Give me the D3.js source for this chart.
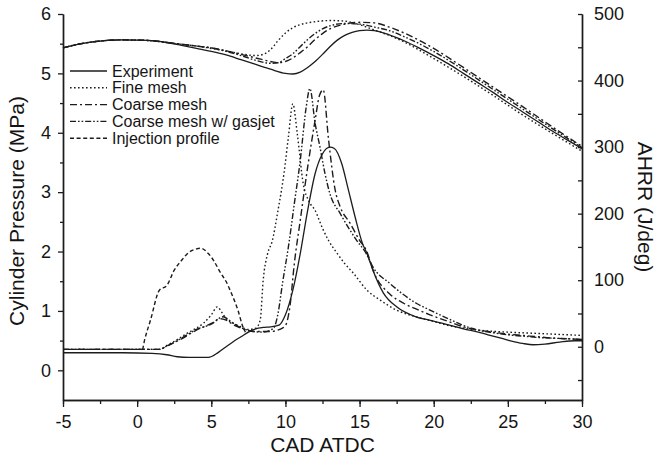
<!DOCTYPE html>
<html>
<head>
<meta charset="utf-8">
<script src="https://cdn.jsdelivr.net/npm/d3@7"></script>
<style>
  body { margin: 0; background: #fff; }
  svg text { font-family: "Liberation Sans", Arial, sans-serif; fill: #151515; }
</style>
</head>
<body>
<svg id="chart"></svg>
<script>
// CAD ATDC vs value
expPressure = [[-5,5.43],[-4,5.49],[-3,5.53],[-2,5.555],[-1,5.565],[0,5.56],[1,5.55],[2,5.52],[3,5.47],[4,5.42],[5,5.37],[6,5.31],[7,5.23],[8,5.15],[9,5.07],[10,5.0],[10.5,4.99],[11,5.02],[11.5,5.1],[12,5.2],[12.5,5.32],[13,5.45],[13.5,5.56],[14,5.64],[14.5,5.69],[15,5.72],[15.5,5.73],[16,5.72],[17,5.65],[18,5.55],[19,5.43],[20,5.3],[21,5.16],[22,5.0],[23,4.84],[24,4.68],[25,4.51],[26,4.35],[27,4.19],[28,4.03],[29,3.88],[30,3.73]]
fineP = [[-5,5.43],[-4,5.49],[-3,5.53],[-2,5.555],[-1,5.565],[0,5.56],[1,5.55],[2,5.52],[3,5.49],[4,5.46],[5,5.42],[6,5.38],[7,5.33],[8,5.3],[8.5,5.32],[9,5.4],[9.5,5.55],[10,5.68],[10.5,5.77],[11,5.82],[12,5.87],[13,5.89],[14,5.88],[15,5.82],[16,5.73],[17,5.64],[18,5.53],[20,5.25],[22,4.95],[24,4.63],[26,4.3],[28,3.99],[30,3.69]]
coarseP = [[-5,5.43],[-4,5.49],[-3,5.53],[-2,5.555],[-1,5.565],[0,5.56],[1,5.55],[2,5.52],[3,5.49],[4,5.46],[5,5.43],[6,5.38],[7,5.32],[8,5.26],[9,5.2],[9.5,5.18],[10,5.2],[10.5,5.26],[11,5.35],[11.5,5.45],[12,5.57],[12.5,5.67],[13,5.75],[14,5.83],[15,5.86],[16,5.85],[17,5.78],[18,5.68],[20,5.42],[22,5.1],[24,4.77],[26,4.44],[28,4.1],[30,3.77]]
gasjetP = [[-5,5.43],[-4,5.49],[-3,5.53],[-2,5.555],[-1,5.565],[0,5.56],[1,5.55],[2,5.52],[3,5.49],[4,5.46],[5,5.43],[6,5.37],[7,5.3],[8,5.22],[9,5.17],[9.5,5.18],[10,5.25],[10.5,5.33],[11,5.45],[11.5,5.57],[12,5.67],[12.5,5.75],[13,5.8],[14,5.84],[15,5.83],[16,5.78],[17,5.72],[18,5.62],[20,5.37],[22,5.06],[24,4.73],[26,4.4],[28,4.07],[30,3.75]]

expAHRR = [[-5,-9],[-1,-9],[1,-10],[2,-12],[2.7,-15],[3.5,-16],[4.8,-16],[5.5,-8],[6,0],[6.5,8],[7,15],[7.5,22],[8,27],[8.5,29],[9,30],[9.6,33],[10,48],[10.5,85],[11,140],[11.5,205],[12,260],[12.5,290],[13,300],[13.3,298],[13.8,275],[14.2,240],[14.7,195],[15.2,155],[15.5,140],[15.9,115],[16.6,81],[17.5,60],[18.8,45],[19.7,40],[21,33],[22,27],[23,22],[24,16],[25,10],[26,5],[26.7,3],[27.5,4],[28.5,7],[29.5,9],[30,9]]
fineAHRR = [[-5,-4],[1.5,-4],[2,2],[2.5,8],[3,15],[3.5,22],[4,28],[4.5,36],[5,48],[5.4,60],[5.7,52],[6,42],[6.5,35],[7,30],[7.5,26],[8,28],[8.3,40],[8.5,100],[8.8,140],[9.1,158],[9.5,205],[9.9,260],[10.2,315],[10.5,365],[10.8,320],[11.2,245],[11.6,218],[12,205],[12.5,178],[12.9,160],[13.5,140],[14,125],[14.6,110],[15.5,85],[16.4,70],[17.5,55],[18.8,45],[20,38],[21,32],[22,28],[23,25],[25,22],[27,20],[29,18],[30,17]]
coarseAHRR = [[-5,-4],[1.5,-4],[2,1],[3,12],[4,25],[5,35],[5.6,42],[6,40],[6.5,33],[7,28],[7.5,24],[8,23],[9,23],[9.6,26],[10,32],[10.3,60],[10.6,125],[11,190],[11.5,270],[12,340],[12.3,378],[12.55,386],[12.9,313],[13.35,236],[13.7,210],[14.35,186],[15,160],[15.45,145],[16,110],[17,80],[18,65],[19,55],[19.75,48],[21,38],[22,30],[23,25],[24,22],[25,19],[26,17],[27,15],[28,13],[29,12],[30,11]]
gasjetAHRR = [[-5,-4],[1.5,-4],[2,1],[3,13],[4,26],[5,34],[5.8,45],[6.2,40],[6.7,32],[7.2,27],[7.8,23],[8.5,22],[9.2,28],[9.5,50],[9.8,95],[10.2,150],[10.6,215],[11,280],[11.4,360],[11.65,388],[12,336],[12.33,300],[12.67,260],[13,230],[13.7,200],[14.8,160],[15.45,140],[15.9,120],[17.05,95],[18.85,65],[19.75,55],[21,42],[22,32],[23,25],[24,21],[25,18],[26,16],[27,14],[28,13],[29,12],[30,11]]
injection = [[-5,-4],[0.35,-4],[0.5,10],[0.9,40],[1.5,85],[2,92],[2.5,115],[3,130],[3.5,142],[4,147],[4.3,148],[4.8,140],[5.2,128],[5.6,112],[6,98],[6.4,78],[6.8,55],[7.1,32],[7.3,22]]

legendNames = ['Experiment', 'Fine mesh', 'Coarse mesh', 'Coarse mesh w/ gasjet', 'Injection profile']
xTicks = [-5, 0, 5, 10, 15, 20, 25, 30]
leftTicks = [0, 1, 2, 3, 4, 5, 6]
rightTicks = [0, 100, 200, 300, 400, 500]

let width = 661
let height = 464
let margin = {top: 14, right: 79, bottom: 64, left: 63}
let chartWidth = width - margin.left - margin.right
let chartHeight = height - margin.top - margin.bottom

const svg = d3.select('#chart').attr('width', width).attr('height', height)
const g = svg.append('g').attr('transform', `translate(${margin.left},${margin.top})`)

xScale = d3.scaleLinear().domain([-5, 30]).range([0, chartWidth])
yLeft = d3.scaleLinear().domain([-0.5, 6]).range([chartHeight, 0])
yRight = d3.scaleLinear().domain([-80, 500]).range([chartHeight, 0])

dashes = ['none', '1.6,2.4', '7,3,2,3', '6,2,1.6,2,1.6,2', '4,2.6']
ink = '#1c1c1c'

series = [
    {data: expPressure, y: yLeft, style: 0},
    {data: fineP, y: yLeft, style: 1},
    {data: coarseP, y: yLeft, style: 2},
    {data: gasjetP, y: yLeft, style: 3},
    {data: expAHRR, y: yRight, style: 0},
    {data: fineAHRR, y: yRight, style: 1},
    {data: coarseAHRR, y: yRight, style: 2},
    {data: gasjetAHRR, y: yRight, style: 3},
    {data: injection, y: yRight, style: 4}
]

series.forEach(s => {
    let line = d3.line()
        .x(d => xScale(d[0]))
        .y(d => s.y(d[1]))
        .curve(d3.curveMonotoneX)
    g.append('path')
        .datum(s.data)
        .attr('d', line)
        .attr('fill', 'none')
        .attr('stroke', ink)
        .attr('stroke-width', s.style == 0 ? 1.3 : 1.4)
        .attr('stroke-dasharray', dashes[s.style])
})

// axes
function styleAxis(sel, fontSize) {
    sel.selectAll('path.domain').attr('stroke', ink).attr('stroke-width', 1.4)
    sel.selectAll('.tick line').attr('stroke', ink).attr('stroke-width', 1.3)
    sel.selectAll('.tick text').attr('font-size', fontSize).attr('fill', '#151515')
        .style('font-family', '"Liberation Sans", Arial, sans-serif')
}

let xMinor = d3.range(-5, 30.1, 2.5)
g.append('g').attr('transform', `translate(0,${chartHeight})`)
    .call(d3.axisBottom(xScale).tickValues(xMinor).tickSize(4).tickSizeOuter(0).tickFormat(''))
    .call(s => styleAxis(s, 18))
g.append('g').attr('transform', `translate(0,${chartHeight})`)
    .call(d3.axisBottom(xScale).tickValues(xTicks).tickSize(7).tickSizeOuter(0).tickPadding(8).tickFormat(d => String(d)))
    .call(s => styleAxis(s, 18))

let leftMinor = d3.range(0.5, 6, 1)
g.append('g')
    .call(d3.axisLeft(yLeft).tickValues(leftMinor).tickSize(3).tickSizeOuter(0).tickFormat(''))
    .call(s => styleAxis(s, 18))
g.append('g')
    .call(d3.axisLeft(yLeft).tickValues(leftTicks).tickSize(5).tickSizeOuter(0).tickPadding(7).tickFormat(d => String(d)))
    .call(s => styleAxis(s, 18))

let rightMinor = d3.range(-50, 500, 100)
g.append('g').attr('transform', `translate(${chartWidth},0)`)
    .call(d3.axisRight(yRight).tickValues(rightMinor).tickSize(-4).tickSizeOuter(0).tickFormat(''))
    .call(s => styleAxis(s, 18))
g.append('g').attr('transform', `translate(${chartWidth},0)`)
    .call(d3.axisRight(yRight).tickValues(rightTicks).tickSize(-4).tickSizeOuter(0).tickPadding(12).tickFormat(d => String(d)))
    .call(s => styleAxis(s, 18))

// axis titles
svg.append('text')
    .attr('transform', `translate(17,${margin.top + chartHeight / 2 + 4}) rotate(-90)`)
    .attr('text-anchor', 'middle').attr('dy', '0.35em')
    .attr('font-size', 21)
    .text('Cylinder Pressure (MPa)')
svg.append('text')
    .attr('transform', `translate(645,${margin.top + chartHeight / 2}) rotate(90)`)
    .attr('text-anchor', 'middle').attr('dy', '0.35em')
    .attr('font-size', 21)
    .text('AHRR (J/deg)')
svg.append('text')
    .attr('x', margin.left + chartWidth / 2).attr('y', 452)
    .attr('text-anchor', 'middle')
    .attr('font-size', 21)
    .text('CAD ATDC')

// legend
const legend = svg.append('g').attr('transform', 'translate(70,71)')
legendNames.forEach((name, i) => {
    let row = legend.append('g').attr('transform', `translate(0,${i * 16.8})`)
    row.append('line')
        .attr('x1', 0).attr('x2', 37).attr('y1', 0).attr('y2', 0)
        .attr('stroke', ink).attr('stroke-width', 1.4)
        .attr('stroke-dasharray', dashes[i])
    row.append('text')
        .attr('x', 42).attr('y', 5.5)
        .attr('font-size', 16)
        .attr('textLength', name.length > 12 ? null : null)
        .text(name)
})
</script>
</body>
</html>
